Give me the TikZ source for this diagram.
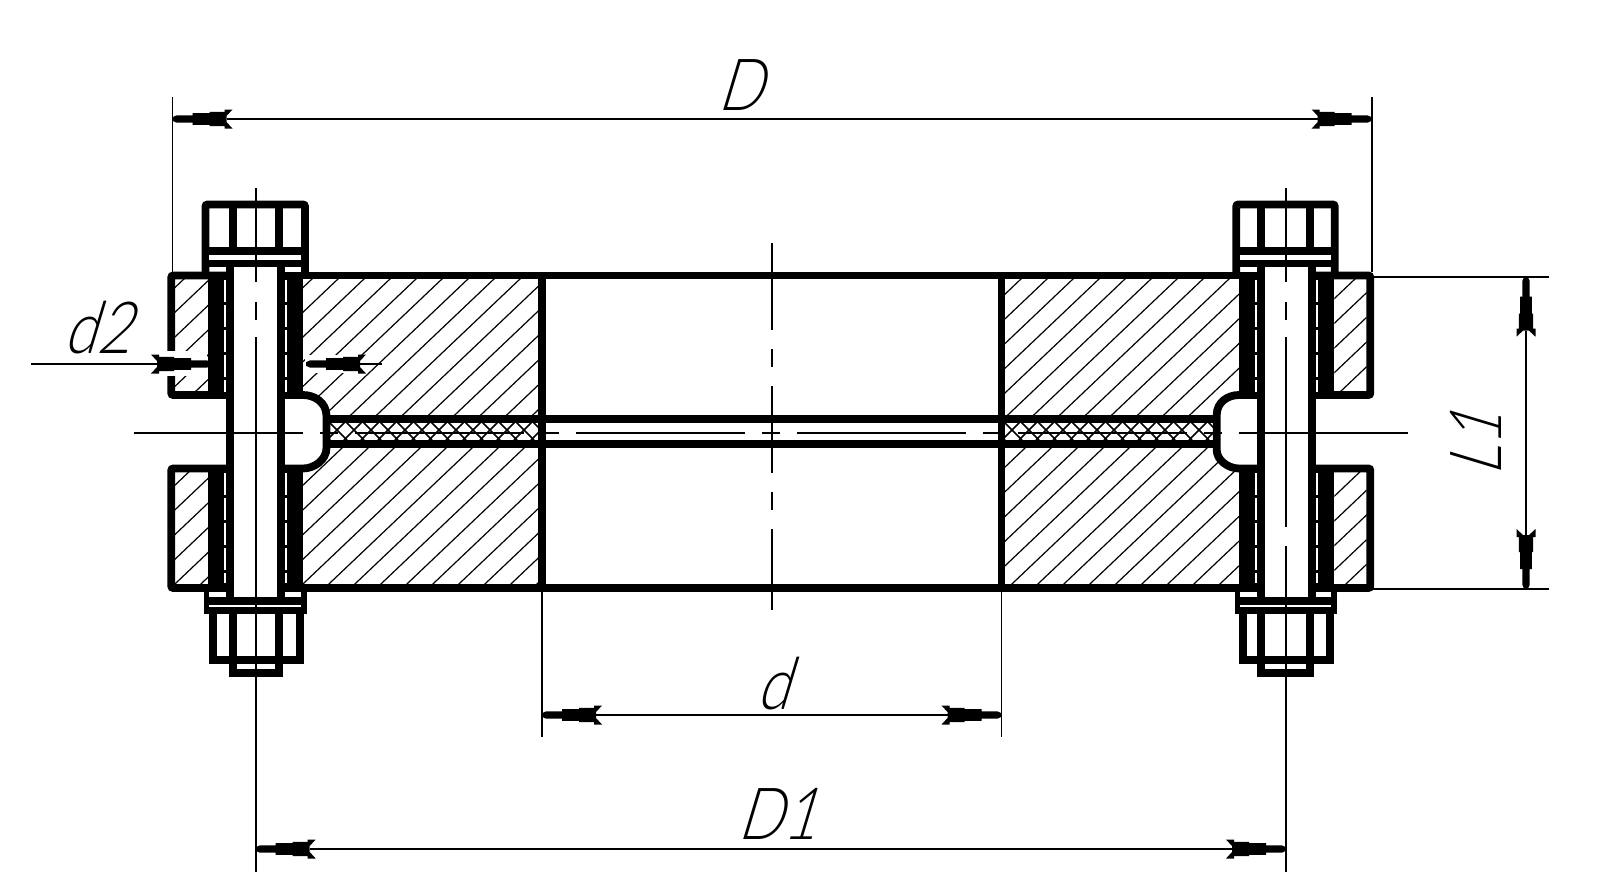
\documentclass[tikz,border=0pt]{standalone}
\usepackage{fontspec}
\usetikzlibrary{arrows.meta}
\newfontfamily\dimfont[FakeSlant=0.3,FakeStretch=0.82]{Lato Light}

\newcommand{\tipto}[2]{\pgfpathlineto{\pgfpoint{#1pt}{#2pt}}}
\pgfdeclarearrow{
  name=dimtip,
  setup code={
    \pgfarrowssettipend{0pt}
    \pgfarrowssetlineend{-27pt}
    \pgfarrowssetvisualbackend{-30pt}
    \pgfarrowssetbackend{-30pt}
  },
  drawing code={
    \pgfpathmoveto{\pgfpoint{0pt}{0.9pt}}
    \tipto{-2}{1.8}\tipto{-10}{1.8}\tipto{-10}{2.9}\tipto{-18.5}{2.9}
    \tipto{-18.5}{3.6}\tipto{-26}{3.6}\tipto{-26}{4.75}\tipto{-30}{4.75}
    \tipto{-27}{1.5}\tipto{-27}{-1.5}\tipto{-30}{-4.75}\tipto{-26}{-4.75}
    \tipto{-26}{-3.6}\tipto{-18.5}{-3.6}\tipto{-18.5}{-2.9}\tipto{-10}{-2.9}
    \tipto{-10}{-1.8}\tipto{-2}{-1.8}\tipto{0}{-0.9}
    \pgfpathclose
    \pgfusepathqfill
  }
}

\tikzset{
  contour/.style={line width=3.9pt},
  roundcontour/.style={contour, rounded corners=1pt},
  thinline/.style={line width=0.8pt},
  axisline/.style={line width=1pt},
  centerdash/.style={axisline, dash pattern=on 43.5pt off 9.5pt on 9pt off 9.5pt},
  longdash/.style={axisline, dash pattern=on 84.5pt off 8.5pt on 9pt off 8.5pt},
  hatchline/.style={line width=0.6pt},
  meshline/.style={line width=0.75pt},
  gapdash/.style={white, line width=1pt, dash pattern=on 11pt off 1.5pt},
  dimtext/.style={inner sep=0pt, font=\dimfont\fontsize{36}{36}\selectfont}
}

% clip to a region, then the slanted lines
\newcommand{\hatcharea}[2]{
  \begin{scope}
    \clip #2;
    \foreach \k in {-208,-182,...,1500}
      \draw[hatchline] ({\k+#1},620) -- ++(400,-380);
  \end{scope}
}

\begin{document}
\begin{tikzpicture}[x=0.5pt,y=-0.5pt]
  \useasboundingbox (0,0) rectangle (1600,884);

  % hatching
  \hatcharea{5}{(303,279) -- (538,279) -- (538,415) -- (322,415) -- (322,405) -- (303,392) -- cycle}
  \hatcharea{5}{(303,472) -- (322,458) -- (322,448) -- (538,448) -- (538,584) -- (303,584) -- cycle}
  \hatcharea{12}{(1005,279) -- (1239,279) -- (1239,391) -- (1222,400) -- (1212,415) -- (1005,415) -- cycle}
  \hatcharea{12}{(1005,448) -- (1212,448) -- (1222,463) -- (1239,472) -- (1239,584) -- (1005,584) -- cycle}
  \hatcharea{7}{(175,279) rectangle (208,391)}
  \hatcharea{7}{(175,472) rectangle (208,584)}
  \hatcharea{8}{(1334.3,279) rectangle (1366.7,391)}
  \hatcharea{8}{(1334.3,472) rectangle (1366.7,584)}

  % gasket mesh
  \foreach \xa/\xb in {330/538, 1005/1213} {
    \begin{scope}
      \clip (\xa,423) rectangle (\xb,440);
      \foreach \k in {-20,-3,...,240} {
        \draw[meshline] ({\xa+\k},440) -- ++(20,-20);
        \draw[meshline] ({\xa+\k},420) -- ++(20,20);
      }
    \end{scope}
  }

  % flanges
  \draw[roundcontour] (230,395) -- (171.3,395) -- (171.3,275.5) -- (230,275.5);
  \draw[roundcontour] (230,468.5) -- (171.3,468.5) -- (171.3,588) -- (230,588);
  \draw[roundcontour] (1311.7,275.5) -- (1370.3,275.5) -- (1370.3,395) -- (1311.7,395);
  \draw[roundcontour] (1311.7,468.5) -- (1370.3,468.5) -- (1370.3,588) -- (1311.7,588);
  \draw[contour] (280.7,275.5) -- (1261,275.5);
  \draw[contour] (280.7,588) -- (1261,588);
  \draw[contour] (541.7,273.6) -- (541.7,589.9);
  \draw[contour] (1001.5,273.6) -- (1001.5,589.9);
  \draw[contour] (326.5,419.3) -- (1216.7,419.3);
  \draw[contour] (326.5,444) -- (1216.7,444);

  % grooves
  \draw[contour] (280.7,395) -- (303,395) .. controls (314,395) and (326.5,402) .. (326.5,416)
    -- (326.5,448) .. controls (326.5,460) and (314,468.5) .. (303,468.5) -- (280.7,468.5);
  \draw[contour] (1261,395) -- (1239,395) .. controls (1228,395) and (1216.7,402) .. (1216.7,415)
    -- (1216.7,450) .. controls (1216.7,460) and (1228,468.5) .. (1239,468.5) -- (1261,468.5);

  % sleeves round the bolts
  \foreach \xa/\xb/\xw in {208/234/225.4, 277/303/286.4, 1239/1265/1256, 1308/1334.3/1316.7} {
    \fill (\xa,272) rectangle (\xb,398);
    \fill (\xa,466) rectangle (\xb,590);
    \draw[gapdash] (\xw,280) -- (\xw,392);
    \draw[gapdash] (\xw,473) -- (\xw,583);
  }

  % bolts
  \foreach \hl/\hr/\il/\ir/\nl/\nr/\sl/\sr in {205.5/305/232.7/279/212.8/299.7/230.3/280.7,
      1236.3/1334.7/1261/1310/1243/1330/1261/1311.7} {
    \draw[contour] (\sl,263) -- (\sl,600);
    \draw[contour] (\sr,263) -- (\sr,600);
    \draw[roundcontour] (\hl,275) -- (\hl,204.5) -- (\hr,204.5) -- (\hr,275);
    \draw[contour] (\il,204.5) -- (\il,251);
    \draw[contour] (\ir,204.5) -- (\ir,251);
    \fill ({\hl-1.8},247) rectangle ({\hr+1.8},267);
    \fill[white] ({\hl+3.7},255) rectangle ({\hr-3.7},260);
    % washer and nut
    \fill ({\hl-1.8},597) rectangle ({\hr+1.8},614);
    \fill ({\hl-1.8},586) rectangle ({\hl+3.7},600);
    \fill ({\hr-3.7},586) rectangle ({\hr+1.8},600);
    \fill[white] ({\hl+3.7},604.8) rectangle ({\hr-3.7},607.2);
    \draw[contour] (\nl,612) -- (\nl,660) -- (\nr,660) -- (\nr,612);
    \draw[contour] (\il,612) -- (\il,673) -- (\ir,673) -- (\ir,612);
    \fill[white] ({\il+6},665) rectangle ({\ir-6},667);
  }

  % centre lines
  \draw[longdash] (133.6,433.3) -- (1409,433.3);
  \draw[centerdash] (771.7,243) -- (771.7,610);
  \draw[axisline] (255.7,188) -- (255.7,282);
  \draw[axisline] (255.7,302) -- (255.7,320);
  \draw[axisline] (255.7,337) -- (255.7,872);
  \draw[axisline] (1286,188) -- (1286,282);
  \draw[axisline] (1286,302) -- (1286,320);
  \draw[axisline] (1286,337) -- (1286,527);
  \draw[axisline] (1286,546) -- (1286,872);

  % extension lines
  \draw[thinline] (172.5,97) -- (172.5,272);
  \draw[thinline] (1371.7,97) -- (1371.7,272);
  \draw[thinline] (542,590) -- (542,737);
  \draw[thinline] (1001.5,590) -- (1001.5,737);
  \draw[thinline] (1372,276.7) -- (1549,276.7);
  \draw[thinline] (1372,589) -- (1549,589);

  % clear round the d2 arrows
  \fill[white] (165,351) rectangle (207,376);
  \fill[white] (305,355) rectangle (364,373);

  % dimensions
  \coordinate (Dleft) at (172.5,119);
  \coordinate (Dright) at (1371.7,119);
  \coordinate (dleft) at (542,715);
  \coordinate (dright) at (1001.5,715);
  \coordinate (Daleft) at (255.7,849);
  \coordinate (Daright) at (1286,849);
  \coordinate (Ltop) at (1526,276.7);
  \coordinate (Lbot) at (1526,589);
  \coordinate (dbleft) at (31,364);
  \coordinate (dbtipl) at (211,364);
  \coordinate (dbright) at (381.6,364);
  \coordinate (dbtipr) at (306,364);
  \draw[thinline, dimtip-dimtip] (Dleft) -- (Dright);
  \draw[thinline, dimtip-dimtip] (dleft) -- (dright);
  \draw[thinline, dimtip-dimtip] (Daleft) -- (Daright);
  \draw[thinline, dimtip-dimtip] (Ltop) -- (Lbot);
  \draw[thinline, -dimtip] (dbleft) -- (dbtipl);
  \draw[thinline, -dimtip] (dbright) -- (dbtipr);

  \node[dimtext] (labelD) at (740,85) {D};
  \node[dimtext] (labeld) at (773,684) {d};
  \node[dimtext] (labelDa) at (777,814) {D1};
  \node[dimtext] (labeldb) at (97,328) {d2};
  \node[dimtext, rotate=90] (labelL) at (1476,444) {L1};
\end{tikzpicture}
\end{document}
